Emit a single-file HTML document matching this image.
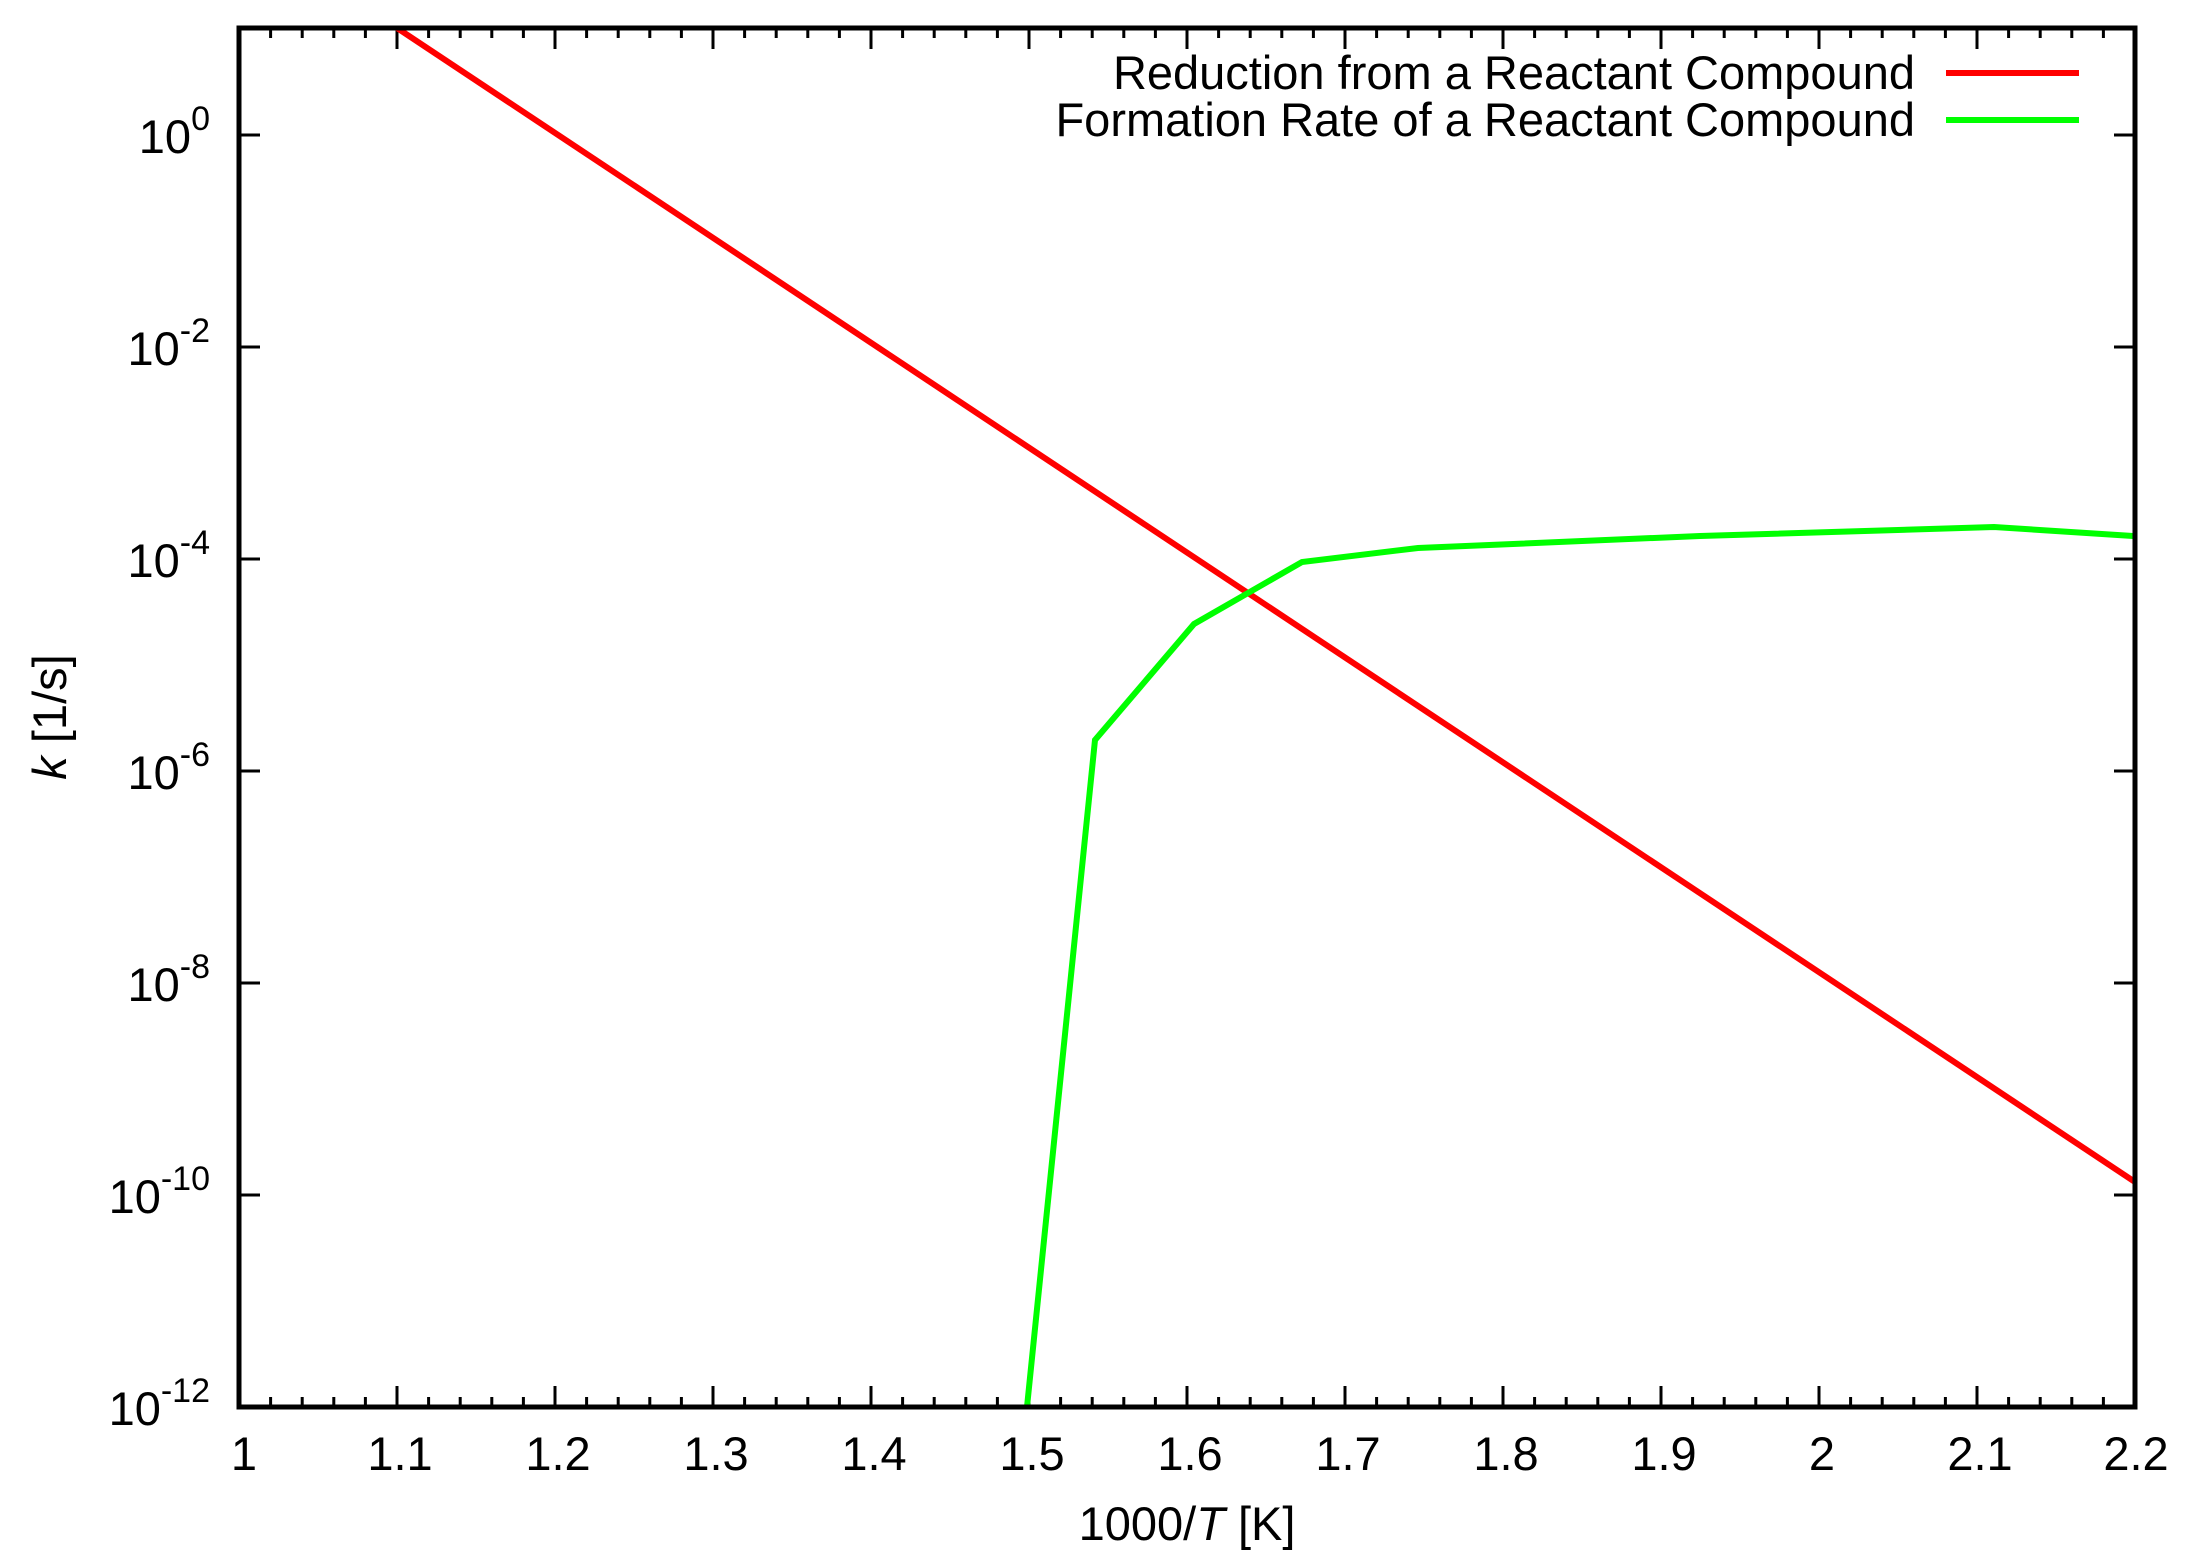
<!DOCTYPE html>
<html><head><meta charset="utf-8"><style>body{margin:0;background:#fff}svg{display:block}</style></head><body>
<svg width="2191" height="1567" xmlns="http://www.w3.org/2000/svg" font-family="Liberation Sans, sans-serif">
<rect width="2191" height="1567" fill="#fff"/>
<g stroke="#000" stroke-width="3">
<path d="M239,1407 v-21 M239,28 v21 M397,1407 v-21 M397,28 v21 M555,1407 v-21 M555,28 v21 M713,1407 v-21 M713,28 v21 M871,1407 v-21 M871,28 v21 M1029,1407 v-21 M1029,28 v21 M1187,1407 v-21 M1187,28 v21 M1345,1407 v-21 M1345,28 v21 M1503,1407 v-21 M1503,28 v21 M1661,1407 v-21 M1661,28 v21 M1819,1407 v-21 M1819,28 v21 M1977,1407 v-21 M1977,28 v21"/>
<path d="M270.6,1407v-10M302.2,1407v-10M333.8,1407v-10M365.4,1407v-10M428.6,1407v-10M460.2,1407v-10M491.8,1407v-10M523.4,1407v-10M586.6,1407v-10M618.2,1407v-10M649.8,1407v-10M681.4,1407v-10M744.6,1407v-10M776.2,1407v-10M807.8,1407v-10M839.4,1407v-10M902.6,1407v-10M934.2,1407v-10M965.8,1407v-10M997.4,1407v-10M1060.6,1407v-10M1092.2,1407v-10M1123.8,1407v-10M1155.4,1407v-10M1218.6,1407v-10M1250.2,1407v-10M1281.8,1407v-10M1313.4,1407v-10M1376.6,1407v-10M1408.2,1407v-10M1439.8,1407v-10M1471.4,1407v-10M1534.6,1407v-10M1566.2,1407v-10M1597.8,1407v-10M1629.4,1407v-10M1692.6,1407v-10M1724.2,1407v-10M1755.8,1407v-10M1787.4,1407v-10M1850.6,1407v-10M1882.2,1407v-10M1913.8,1407v-10M1945.4,1407v-10M2008.6,1407v-10M2040.2,1407v-10M2071.8,1407v-10M2103.4,1407v-10"/>
<path d="M270.6,28v10M302.2,28v10M333.8,28v10M365.4,28v10M428.6,28v10M460.2,28v10M491.8,28v10M523.4,28v10M586.6,28v10M618.2,28v10M649.8,28v10M681.4,28v10M744.6,28v10M776.2,28v10M807.8,28v10M839.4,28v10M902.6,28v10M934.2,28v10M965.8,28v10M997.4,28v10M1060.6,28v10M1092.2,28v10M1123.8,28v10M1155.4,28v10M1218.6,28v10M1250.2,28v10M1281.8,28v10M1313.4,28v10M1376.6,28v10M1408.2,28v10M1439.8,28v10M1471.4,28v10M1534.6,28v10M1566.2,28v10M1597.8,28v10M1629.4,28v10M1692.6,28v10M1724.2,28v10M1755.8,28v10M1787.4,28v10M1850.6,28v10M1882.2,28v10M1913.8,28v10M1945.4,28v10M2008.6,28v10M2040.2,28v10M2071.8,28v10M2103.4,28v10"/>
<path d="M239,135h21M2135,135h-21M239,347h21M2135,347h-21M239,559h21M2135,559h-21M239,771h21M2135,771h-21M239,983h21M2135,983h-21M239,1195h21M2135,1195h-21"/>
</g>
<polyline fill="none" stroke="#ff0000" stroke-width="6" points="397,28 2135,1182"/>
<polyline fill="none" stroke="#00ff00" stroke-width="6" points="1027,1407 1095,740 1194,624 1302,562 1418,548 1700,536 1994,527 2133,536"/>
<rect x="239" y="28" width="1896" height="1379" fill="none" stroke="#000" stroke-width="5"/>
<g font-size="47" text-anchor="middle">
<text x="244" y="1470">1</text><text x="400" y="1470">1.1</text><text x="558" y="1470">1.2</text><text x="716" y="1470">1.3</text><text x="874" y="1470">1.4</text><text x="1032" y="1470">1.5</text><text x="1190" y="1470">1.6</text><text x="1348" y="1470">1.7</text><text x="1506" y="1470">1.8</text><text x="1664" y="1470">1.9</text><text x="1822" y="1470">2</text><text x="1980" y="1470">2.1</text><text x="2136" y="1470">2.2</text>
</g>
<g font-size="47" text-anchor="end">
<text x="210" y="153">10<tspan font-size="34" dy="-23">0</tspan></text>
<text x="210" y="365">10<tspan font-size="34" dy="-23">-2</tspan></text>
<text x="210" y="577">10<tspan font-size="34" dy="-23">-4</tspan></text>
<text x="210" y="789">10<tspan font-size="34" dy="-23">-6</tspan></text>
<text x="210" y="1001">10<tspan font-size="34" dy="-23">-8</tspan></text>
<text x="210" y="1213">10<tspan font-size="34" dy="-23">-10</tspan></text>
<text x="210" y="1425">10<tspan font-size="34" dy="-23">-12</tspan></text>
<text x="1915" y="89">Reduction from a Reactant Compound</text>
<text x="1915" y="136">Formation Rate of a Reactant Compound</text>
</g>
<line x1="1946" y1="73" x2="2079" y2="73" stroke="#ff0000" stroke-width="6"/>
<line x1="1946" y1="120" x2="2079" y2="120" stroke="#00ff00" stroke-width="6"/>
<text x="1187" y="1540" font-size="47" text-anchor="middle">1000/<tspan font-style="italic">T</tspan> [K]</text>
<text transform="translate(66,717) rotate(-90)" font-size="47" text-anchor="middle"><tspan font-style="italic">k</tspan> [1/s]</text>
</svg>
</body></html>
